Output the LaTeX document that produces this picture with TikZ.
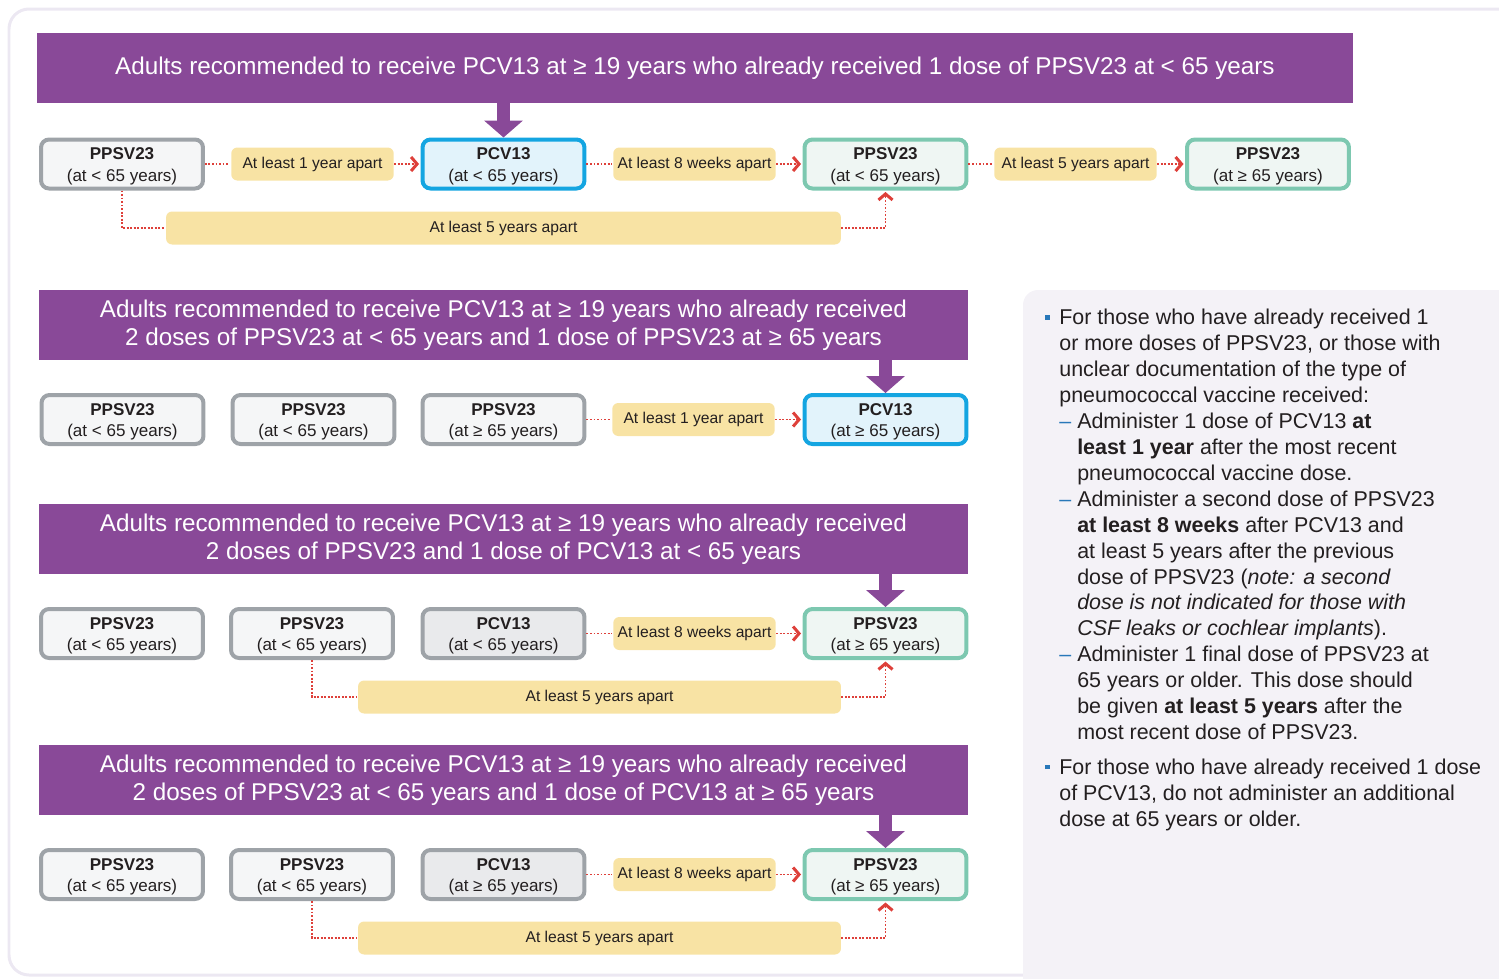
\documentclass[tikz,border=0pt]{standalone}
\usepackage{fontspec}
\setmainfont{Liberation Sans}
\usetikzlibrary{arrows.meta}

\definecolor{vacpurple}{RGB}{137,73,152}
\definecolor{boxgrey}{RGB}{158,163,168}
\definecolor{fillgrey}{RGB}{245,246,247}
\definecolor{fillgreyd}{RGB}{233,234,236}
\definecolor{boxblue}{RGB}{20,165,225}
\definecolor{fillblue}{RGB}{226,243,251}
\definecolor{boxgreen}{RGB}{125,200,176}
\definecolor{fillgreen}{RGB}{239,246,243}
\definecolor{gapyellow}{RGB}{248,227,164}
\definecolor{dotred}{RGB}{222,64,58}
\definecolor{panelfill}{RGB}{244,242,247}
\definecolor{framecol}{RGB}{236,232,242}
\definecolor{bulblue}{RGB}{40,120,185}
\definecolor{inkdark}{RGB}{35,31,32}

\newcommand{\dosetext}[2]{\rule{0pt}{9.4pt}\textbf{#1}\\(at #2 65 years)}
\newcommand{\notebul}{\llap{\textcolor{bulblue}{\rule[3pt]{2.6pt}{2.6pt}}\hspace{5.3pt}}}
\newcommand{\notedash}{\rlap{\textcolor{bulblue}{–}}\hspace*{10.2pt}}
\newcommand{\noteind}{\hspace*{10.2pt}}

\begin{document}
\begin{tikzpicture}[x=0.02cm,y=-0.02cm,
    >={Straight Barb[length=3.4pt,width=8pt,line width=1.7pt]},
    head/.style={fill=vacpurple, text=white, minimum height=1.4cm, inner sep=0,
      align=center, font=\fontsize{13.8pt}{15.9pt}\selectfont},
    dose/.style={draw=boxgrey, fill=fillgrey, line width=0.08cm, rounded corners=0.16cm,
      minimum width=3.24cm, minimum height=0.98cm, inner sep=0, align=center,
      text=inkdark, font=\fontsize{9.7pt}{12.5pt}\selectfont},
    pcvnew/.style={draw=boxblue, fill=fillblue},
    pcvold/.style={fill=fillgreyd},
    later/.style={draw=boxgreen, fill=fillgreen},
    gap/.style={fill=gapyellow, rounded corners=0.12cm, minimum width=3.25cm,
      minimum height=0.66cm, inner sep=0, text=inkdark,
      font=\fontsize{8.9pt}{10pt}\selectfont},
    wait/.style={dotred, line width=1.1pt, dash pattern=on 1.1pt off 0.9pt, shorten >=0.03cm},
    feed/.style={vacpurple, line width=0.25cm,
      -{Triangle[length=0.34cm,width=0.76cm]}},
    notes/.style={inner sep=0, align=left, text=inkdark,
      font=\fontsize{12.2pt}{14.75pt}\selectfont}]
  \useasboundingbox (0,0) rectangle (1499,978);
  \clip (0,0) rectangle (1499,978);
  % frame and side panel
  \draw[framecol, line width=0.06cm, rounded corners=0.4cm] (9,9) rectangle (1540,975);
  \fill[panelfill, rounded corners=0.3cm] (1023,290) rectangle (1540,1010);

  % first case
  \node[head, minimum width=26.32cm] (t1) at (695,68)
    {Adults recommended to receive PCV13 at ≥ 19 years who already received 1 dose of PPSV23 at < 65 years};
  \node[dose] (a1) at (122,164) {\dosetext{PPSV23}{<}};
  \node[gap] (a12) at (312.5,164) {At least 1 year apart};
  \node[dose,pcvnew] (a2) at (503.5,164) {\dosetext{PCV13}{<}};
  \node[gap] (a23) at (694.5,164) {At least 8 weeks apart};
  \node[dose,later] (a3) at (885.5,164) {\dosetext{PPSV23}{<}};
  \node[gap] (a34) at (1075.5,164) {At least 5 years apart};
  \node[dose,later] (a4) at (1268,164) {\dosetext{PPSV23}{≥}};
  \node[gap, minimum width=13.5cm] (a13) at (503.5,228) {At least 5 years apart};
  \draw[feed] (t1.south -| a2) -- (a2.north);
  \draw[wait] (a1) -- (a12);
  \draw[wait,->] (a12) -- (a2);
  \draw[wait] (a2) -- (a23);
  \draw[wait,->] (a23) -- (a3);
  \draw[wait] (a3) -- (a34);
  \draw[wait,->] (a34) -- (a4);
  \draw[wait] (a1.south) |- (a13.west);
  \draw[wait,->] (a13.east) -| (a3.south);

  % second case
  \node[head, minimum width=18.58cm] (t2) at (503.5,325)
    {Adults recommended to receive PCV13 at ≥ 19 years who already received\\
     2 doses of PPSV23 at < 65 years and 1 dose of PPSV23 at ≥ 65 years};
  \node[dose] (b1) at (122.5,419.5) {\dosetext{PPSV23}{<}};
  \node[dose] (b2) at (313.5,419.5) {\dosetext{PPSV23}{<}};
  \node[dose] (b3) at (503.5,419.5) {\dosetext{PPSV23}{≥}};
  \node[gap] (b34) at (693.5,419.5) {At least 1 year apart};
  \node[dose,pcvnew] (b4) at (885.5,419.5) {\dosetext{PCV13}{≥}};
  \draw[feed] (t2.south -| b4) -- (b4.north);
  \draw[wait] (b3) -- (b34);
  \draw[wait,->] (b34) -- (b4);

  % third case
  \node[head, minimum width=18.58cm] (t3) at (503.5,539)
    {Adults recommended to receive PCV13 at ≥ 19 years who already received\\
     2 doses of PPSV23 and 1 dose of PCV13 at < 65 years};
  \node[dose] (c1) at (122,633.5) {\dosetext{PPSV23}{<}};
  \node[dose] (c2) at (312,633.5) {\dosetext{PPSV23}{<}};
  \node[dose,pcvold] (c3) at (503.5,633.5) {\dosetext{PCV13}{<}};
  \node[gap] (c34) at (694.5,633.5) {At least 8 weeks apart};
  \node[dose,later] (c4) at (885.5,633.5) {\dosetext{PPSV23}{≥}};
  \node[gap, minimum width=9.66cm] (c24) at (599.5,697) {At least 5 years apart};
  \draw[feed] (t3.south -| c4) -- (c4.north);
  \draw[wait] (c3) -- (c34);
  \draw[wait,->] (c34) -- (c4);
  \draw[wait] (c2.south) |- (c24.west);
  \draw[wait,->] (c24.east) -| (c4.south);

  % fourth case
  \node[head, minimum width=18.58cm] (t4) at (503.5,780)
    {Adults recommended to receive PCV13 at ≥ 19 years who already received\\
     2 doses of PPSV23 at < 65 years and 1 dose of PCV13 at ≥ 65 years};
  \node[dose] (d1) at (122,874.5) {\dosetext{PPSV23}{<}};
  \node[dose] (d2) at (312,874.5) {\dosetext{PPSV23}{<}};
  \node[dose,pcvold] (d3) at (503.5,874.5) {\dosetext{PCV13}{≥}};
  \node[gap] (d34) at (694.5,874.5) {At least 8 weeks apart};
  \node[dose,later] (d4) at (885.5,874.5) {\dosetext{PPSV23}{≥}};
  \node[gap, minimum width=9.66cm] (d24) at (599.5,938) {At least 5 years apart};
  \draw[feed] (t4.south -| d4) -- (d4.north);
  \draw[wait] (d3) -- (d34);
  \draw[wait,->] (d34) -- (d4);
  \draw[wait] (d2.south) |- (d24.west);
  \draw[wait,->] (d24.east) -| (d4.south);

  % notes
  \node[notes, anchor=north west] (n1) at (1059,309) {%
    \notebul For those who have already received 1\\
    or more doses of PPSV23, or those with\\
    unclear documentation of the type of\\
    pneumococcal vaccine received:\\
    \notedash Administer 1 dose of PCV13 \textbf{at}\\
    \noteind\textbf{least 1 year} after the most recent\\
    \noteind pneumococcal vaccine dose.\\
    \notedash Administer a second dose of PPSV23\\
    \noteind\textbf{at least 8 weeks} after PCV13 and\\
    \noteind at least 5 years after the previous\\
    \noteind dose of PPSV23 (\textit{note: a second}\\
    \noteind\textit{dose is not indicated for those with}\\
    \noteind\textit{CSF leaks or cochlear implants}).\\
    \notedash Administer 1 final dose of PPSV23 at\\
    \noteind 65 years or older. This dose should\\
    \noteind be given \textbf{at least 5 years} after the\\
    \noteind most recent dose of PPSV23.\\[5.1pt]
    \notebul For those who have already received 1 dose\\
    of PCV13, do not administer an additional\\
    dose at 65 years or older.};
\end{tikzpicture}
\end{document}
